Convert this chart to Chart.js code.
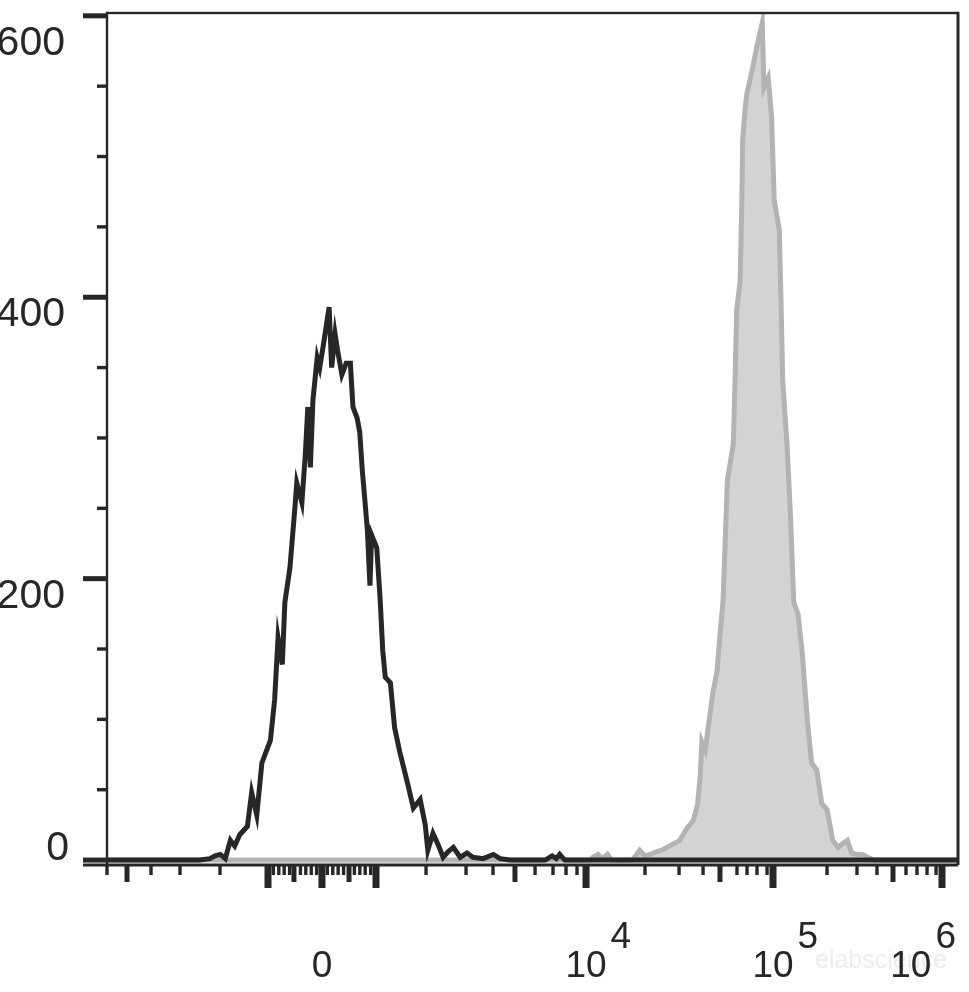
<!DOCTYPE html>
<html>
<head>
<meta charset="utf-8">
<script src="https://cdn.jsdelivr.net/npm/chart.js@4.4.1/dist/chart.umd.min.js"></script>
<style>
  html, body { margin: 0; padding: 0; background: #fff; }
  canvas { display: block; }
</style>
</head>
<body>
<canvas id="hist" width="969" height="992"></canvas>
<script>
// ---------------------------------------------------------------------------
// Data (x in display channels 0..1000 of the biexponential axis, y = count)
// ---------------------------------------------------------------------------

// unstained / control histogram (black outline)
const controlCh = [0,109,121,127,133,139,145,150,156,165,170,176,182,187,192,197,201,206,209,215,
  221,223,229,233,236,239,242,247,250,255,261,264,268,271,276,281,286,289,294,297,
  300,303,306,309,311,317,321,324,327,333,338,344,353,360,368,374,377,383,389,395,
  401,407,415,423,430,442,454,462,474,515,523,528,532,538,1000];
const controlCount = [0,0,1,3,4,1,14,10,18,24,48,32,69,77,85,114,158,139,183,208,
  252,268,254,288,322,279,327,357,350,369,393,350,374,362,345,353,353,322,314,304,
  277,256,234,195,231,222,185,149,130,126,94,77,55,37,43,25,7,19,11,2,
  6,9,2,5,2,1,4,1,0,0,3,1,4,0,0];

// stained histogram (grey filled)
const stainedCh = [0,568,571,577,582,588,593,617,620,626,632,638,646,652,658,667,673,682,689,694,
  697,699,703,706,712,717,720,724,729,736,738,740,744,746,747,750,752,758,764,770,
  772,777,781,784,790,792,794,799,803,806,807,812,817,823,828,834,840,846,853,859,
  865,870,875,882,888,897,902,1000];
const stainedCount = [0,0,2,4,1,4,0,0,2,7,3,4,6,7,9,12,14,23,28,40,
  59,84,78,92,119,135,158,185,270,296,341,391,412,469,512,535,545,561,579,595,
  549,556,528,469,448,398,341,296,247,199,183,175,147,99,69,64,40,36,14,9,
  12,14,5,4,4,1,0,0];

// y axis ticks
const yMajorTicks = [0, 200, 400, 600];
const yMinorTicks = [50, 100, 150, 250, 300, 350, 450, 500, 550];

// x axis ticks (channel positions of 0, +-1e3, 1e4, 1e5, 1e6 / 5x / others)
const xLongTicks = [189.2, 252.6, 316.1, 562.9, 782.6, 981.2];
const xMidTicks = [23.5, 219.7, 284.4, 479.4, 720.3, 923.6];
const xShortTicks = [0, 51.7, 85.8, 132.8,
  195.5, 201.9, 208.2, 214.6, 227.3, 233.6, 240, 246.3,
  258.9, 265.3, 271.6, 278, 290.7, 297.1, 303.4, 309.8,
  374.9, 421.9, 453.6, 503, 524.1, 539.4, 552.3,
  632.2, 672.2, 700.4, 740.3, 752.1, 763.8, 775.6,
  846.1, 881.3, 904.8, 938.9, 951.8, 963.6, 974.2];

// x axis labels
const xLabelCh = [252.6, 562.9, 782.6, 981.2];
const xLabelBase = ["0", "10", "10", "10"];
const xLabelExp = ["", "4", "5", "6"];

const INK = "#272727";
const FONT = '"Liberation Sans", Arial, sans-serif';

// ---------------------------------------------------------------------------
// Axes, frame and labels drawn on top of the chart
// ---------------------------------------------------------------------------

const flowAxes = {
  id: "flowAxes",
  afterDraw(chart) {
    const { ctx, chartArea: a } = chart;
    const xs = chart.scales.x;
    const ys = chart.scales.y;
    ctx.save();
    ctx.fillStyle = INK;

    // frame
    ctx.fillRect(a.left - 1.2, a.top - 1.2, 2.4, a.bottom - a.top + 1.2);
    ctx.fillRect(a.left, a.top - 1.2, a.right - a.left, 2.4);
    ctx.fillRect(a.right - 1.5, a.top - 1.2, 3, a.bottom - a.top + 1.2);
    ctx.fillRect(a.left - 24, a.bottom - 1.5, a.right - a.left + 24, 3);

    // y ticks
    yMajorTicks.forEach((v) => {
      const py = ys.getPixelForValue(v);
      ctx.fillRect(a.left - 24, py - 2.5, 24, 5);
    });
    yMinorTicks.forEach((v) => {
      const py = ys.getPixelForValue(v);
      ctx.fillRect(a.left - 10, py - 1.7, 10, 3.4);
    });

    // x ticks
    const tick = (arr, len, w) => arr.forEach((c) => {
      const px = xs.getPixelForValue(c);
      ctx.fillRect(px - w / 2, a.bottom, w, len);
    });
    tick(xShortTicks, 10, 3.4);
    tick(xMidTicks, 17, 5);
    tick(xLongTicks, 23, 7);

    // y labels
    ctx.font = `41px ${FONT}`;
    ctx.textAlign = "right";
    ctx.textBaseline = "alphabetic";
    yMajorTicks.forEach((v) => {
      const py = ys.getPixelForValue(v);
      const base = v === 0 ? py : Math.max(py + 29, 55);
      ctx.fillText(String(v), v === 0 ? 69 : 65, base);
    });

    // watermark
    ctx.fillStyle = "#ededed";
    ctx.font = `25px ${FONT}`;
    ctx.textAlign = "left";
    ctx.fillText("elabscience", 815, 968);

    // x labels (10 with a raised exponent)
    ctx.fillStyle = INK;
    ctx.font = `37px ${FONT}`;
    xLabelCh.forEach((c, i) => {
      const px = xs.getPixelForValue(c);
      const bw = ctx.measureText(xLabelBase[i]).width;
      const ew = xLabelExp[i] ? ctx.measureText(xLabelExp[i]).width + 4 : 0;
      let left = px - bw / 2;
      if (left + bw + ew > a.right - 2) left = a.right - 2 - bw - ew;
      ctx.fillText(xLabelBase[i], left, 977);
      if (xLabelExp[i]) ctx.fillText(xLabelExp[i], left + bw + 4, 948);
    });

    ctx.restore();
  },
};

// ---------------------------------------------------------------------------
// Chart
// ---------------------------------------------------------------------------

const toPoints = (xsArr, ysArr) => xsArr.map((x, i) => ({ x, y: ysArr[i] }));

new Chart(document.getElementById("hist"), {
  type: "line",
  data: {
    datasets: [
      {
        label: "Control",
        data: toPoints(controlCh, controlCount),
        borderColor: INK,
        borderWidth: 5,
        pointRadius: 0,
        fill: false,
        order: 0,
      },
      {
        label: "Stained",
        data: toPoints(stainedCh, stainedCount),
        borderColor: "#b3b3b3",
        backgroundColor: "#d3d3d3",
        borderWidth: 5,
        pointRadius: 0,
        fill: "origin",
        order: 1,
      },
    ],
  },
  options: {
    responsive: false,
    animation: false,
    devicePixelRatio: 1,
    layout: { padding: { left: 107, top: 13, right: 11, bottom: 127 } },
    plugins: { legend: { display: false }, tooltip: { enabled: false } },
    scales: {
      x: { type: "linear", min: 0, max: 1000, display: false },
      y: { type: "linear", min: -3.5, max: 602, display: false },
    },
  },
  plugins: [flowAxes],
});
</script>
</body>
</html>
